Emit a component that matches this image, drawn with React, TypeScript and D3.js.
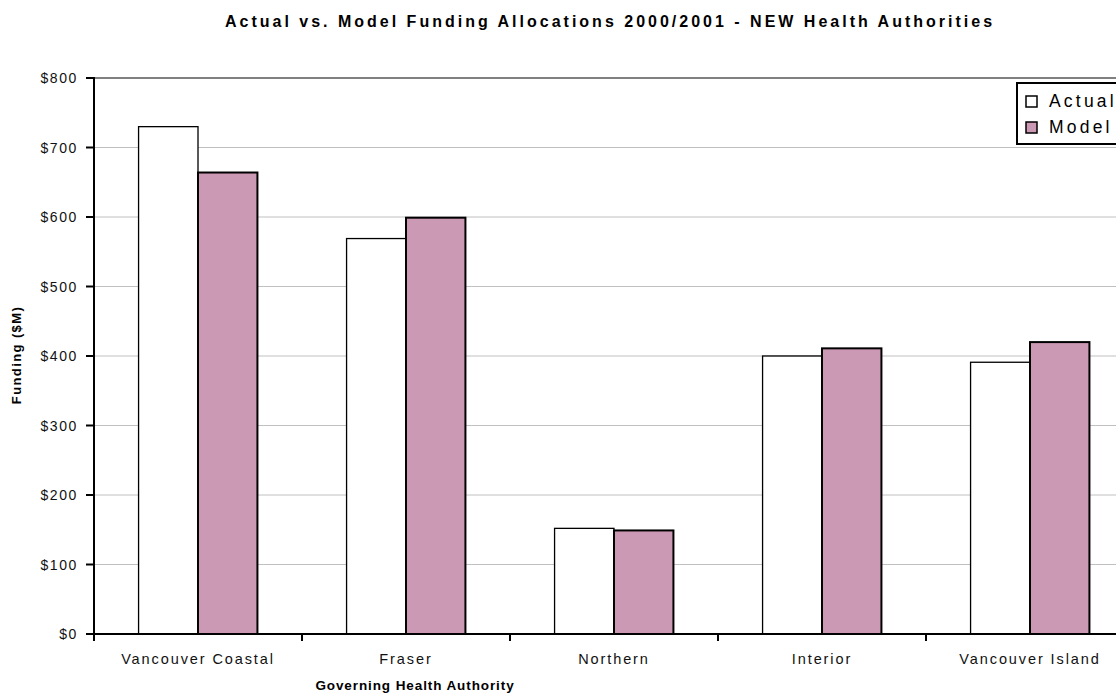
import React from "react";
import * as d3 from "d3";

// Health authorities along the x axis
const categories = [
  "Vancouver Coastal",
  "Fraser",
  "Northern",
  "Interior",
  "Vancouver Island",
];

// Funding in $M for each authority
const actualFunding = [730, 569, 152, 400, 391];
const modelFunding = [664, 599, 149, 411, 420];

const seriesNames = ["Actual", "Model"];
const yTicks = [0, 100, 200, 300, 400, 500, 600, 700, 800];

const WIDTH = 1116;
const HEIGHT = 694;
const FONT = "Arial, 'Liberation Sans', Helvetica, sans-serif";
const MODEL_FILL = "#cc99b4";

export default function App() {
  const plot = { left: 94, right: 1134, top: 78, bottom: 634 };

  const x0 = d3
    .scaleBand<string>()
    .domain(categories)
    .range([plot.left, plot.right])
    .paddingInner(0)
    .paddingOuter(0);

  const x1 = d3
    .scaleBand<string>()
    .domain(seriesNames)
    .range([0, x0.bandwidth()])
    .paddingInner(0)
    .paddingOuter(0.75);

  const y = d3.scaleLinear().domain([0, 800]).range([plot.bottom, plot.top]);

  const rows = categories.map((c, i) => ({
    category: c,
    values: [
      { name: "Actual", value: actualFunding[i] },
      { name: "Model", value: modelFunding[i] },
    ],
  }));

  const boundaries = [...categories.map((c) => x0(c) as number), plot.right];

  return (
    <svg
      width={WIDTH}
      height={HEIGHT}
      style={{ position: "absolute", left: 0, top: 0, background: "#fff" }}
      fontFamily={FONT}
    >
      {/* title */}
      <text
        x={610}
        y={27}
        textAnchor="middle"
        fontSize={16}
        fontWeight="bold"
        letterSpacing={3.0}
        fill="#000"
      >
        Actual vs. Model Funding Allocations 2000/2001 - NEW Health Authorities
      </text>

      {/* gridlines */}
      {yTicks
        .filter((t) => t > 0)
        .map((t) => (
          <line
            key={`g${t}`}
            x1={plot.left}
            x2={plot.right}
            y1={y(t)}
            y2={y(t)}
            stroke={t === 800 ? "#808080" : "#c0c0c0"}
            strokeWidth={t === 800 ? 2 : 1}
          />
        ))}

      {/* bars */}
      {rows.map((r) =>
        r.values.map((v) => {
          const bx = (x0(r.category) as number) + (x1(v.name) as number);
          const isModel = v.name === "Model";
          return (
            <rect
              key={`${r.category}-${v.name}`}
              x={bx}
              y={y(v.value)}
              width={x1.bandwidth()}
              height={y(0) - y(v.value)}
              fill={isModel ? MODEL_FILL : "#fff"}
              stroke="#000"
              strokeWidth={isModel ? 2 : 1.3}
            />
          );
        })
      )}

      {/* y axis */}
      <line x1={plot.left} x2={plot.left} y1={plot.top - 1} y2={plot.bottom + 1} stroke="#000" strokeWidth={2} />
      {yTicks.map((t) => (
        <g key={`y${t}`}>
          <line x1={plot.left - 8} x2={plot.left} y1={y(t)} y2={y(t)} stroke="#000" strokeWidth={2} />
          <text
            x={78}
            y={y(t)}
            dy="0.36em"
            textAnchor="end"
            fontSize={14}
            letterSpacing={1.6}
            fill="#111"
          >
            {d3.format("$,")(t)}
          </text>
        </g>
      ))}

      {/* x axis */}
      <line x1={plot.left - 1} x2={plot.right} y1={plot.bottom} y2={plot.bottom} stroke="#000" strokeWidth={2} />
      {boundaries.map((b, i) => (
        <line key={`xt${i}`} x1={b} x2={b} y1={plot.bottom} y2={plot.bottom + 7} stroke="#000" strokeWidth={2} />
      ))}
      {categories.map((c) => (
        <text
          key={`xl${c}`}
          x={(x0(c) as number) + x0.bandwidth() / 2}
          y={664}
          textAnchor="middle"
          fontSize={14.5}
          letterSpacing={1.9}
          fill="#111"
        >
          {c}
        </text>
      ))}

      {/* axis titles */}
      <text
        x={415}
        y={690}
        textAnchor="middle"
        fontSize={13.5}
        fontWeight="bold"
        letterSpacing={0.9}
        fill="#000"
      >
        Governing Health Authority
      </text>
      <text
        transform={`translate(21, ${355}) rotate(-90)`}
        textAnchor="middle"
        fontSize={13}
        fontWeight="bold"
        letterSpacing={1.4}
        fill="#000"
      >
        Funding ($M)
      </text>

      {/* legend */}
      <g>
        <rect x={1017} y={83} width={140} height={61} fill="#fff" stroke="#000" strokeWidth={2} />
        {seriesNames.map((s, i) => (
          <g key={`lg${s}`}>
            <rect
              x={1026}
              y={96 + i * 26}
              width={11}
              height={11}
              fill={s === "Model" ? MODEL_FILL : "#fff"}
              stroke="#000"
              strokeWidth={1.5}
            />
            <text x={1049} y={107 + i * 26} fontSize={17.5} letterSpacing={3.2} fill="#000">
              {s}
            </text>
          </g>
        ))}
      </g>
    </svg>
  );
}
